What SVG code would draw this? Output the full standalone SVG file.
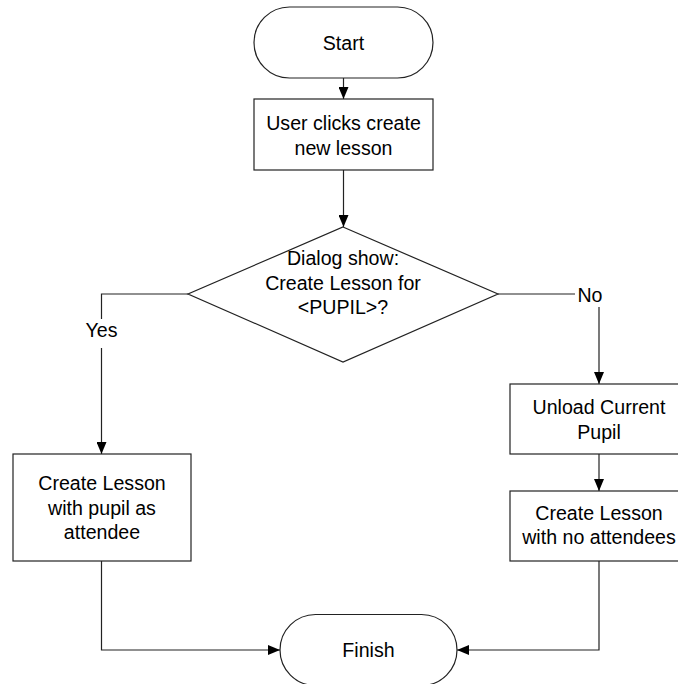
<svg xmlns="http://www.w3.org/2000/svg" width="678" height="684" viewBox="0 0 678 684">
<defs>
<marker id="arr" viewBox="0 0 12 10" refX="12" refY="5" markerWidth="12" markerHeight="10" markerUnits="userSpaceOnUse" orient="auto">
<path d="M0,0 L12,5 L0,10 Z" fill="#000"/>
</marker>
</defs>
<style>
.s{fill:#fff;stroke:#222;stroke-width:1.2}
.c{fill:none;stroke:#222;stroke-width:1.2}
.t{font-family:"Liberation Sans",Arial,sans-serif;font-size:19.6px;fill:#000;text-anchor:middle}
</style>
<rect width="678" height="684" fill="#fff"/>
<g id="connectors">
<path class="c" d="M343.5,78 V99" marker-end="url(#arr)"/>
<path class="c" d="M343.5,170 V227" marker-end="url(#arr)"/>
<path class="c" d="M188,294 H101.5 V454" marker-end="url(#arr)"/>
<path class="c" d="M498,294 H599 V384" marker-end="url(#arr)"/>
<path class="c" d="M599,454 V491" marker-end="url(#arr)"/>
<path class="c" d="M101.5,561 V650 H280" marker-end="url(#arr)"/>
<path class="c" d="M599,561 V650 H457" marker-end="url(#arr)"/>
<rect x="84" y="319" width="36" height="29" fill="#fff"/>
<text class="t" x="101.5" y="337">Yes</text>
<rect x="575" y="283" width="32" height="24" fill="#fff"/>
<text class="t" x="590" y="302">No</text>
</g>
<g id="start">
<rect class="s" x="254" y="7" width="179" height="71" rx="35.5"/>
<text class="t" x="343.5" y="49.5">Start</text>
</g>
<g id="clicks">
<rect class="s" x="254" y="99" width="179" height="71"/>
<text class="t" x="343.5" y="130">User clicks create</text>
<text class="t" x="343.5" y="155">new lesson</text>
</g>
<g id="dialog">
<polygon class="s" points="343,227 498,294 343,362 188,294"/>
<text class="t" x="343" y="265">Dialog show:</text>
<text class="t" x="343" y="290">Create Lesson for</text>
<text class="t" x="343" y="314">&lt;PUPIL&gt;?</text>
</g>
<g id="withpupil">
<rect class="s" x="13" y="454" width="178" height="107"/>
<text class="t" x="102" y="490">Create Lesson</text>
<text class="t" x="102" y="515">with pupil as</text>
<text class="t" x="102" y="539">attendee</text>
</g>
<g id="unload">
<rect class="s" x="510" y="384" width="178" height="70"/>
<text class="t" x="599" y="414">Unload Current</text>
<text class="t" x="599" y="439">Pupil</text>
</g>
<g id="noattendees">
<rect class="s" x="510" y="491" width="178" height="70"/>
<text class="t" x="599" y="520">Create Lesson</text>
<text class="t" x="599" y="544">with no attendees</text>
</g>
<g id="finish">
<rect class="s" x="280" y="614.5" width="177" height="71" rx="35.5"/>
<text class="t" x="368.5" y="657">Finish</text>
</g>
</svg>
